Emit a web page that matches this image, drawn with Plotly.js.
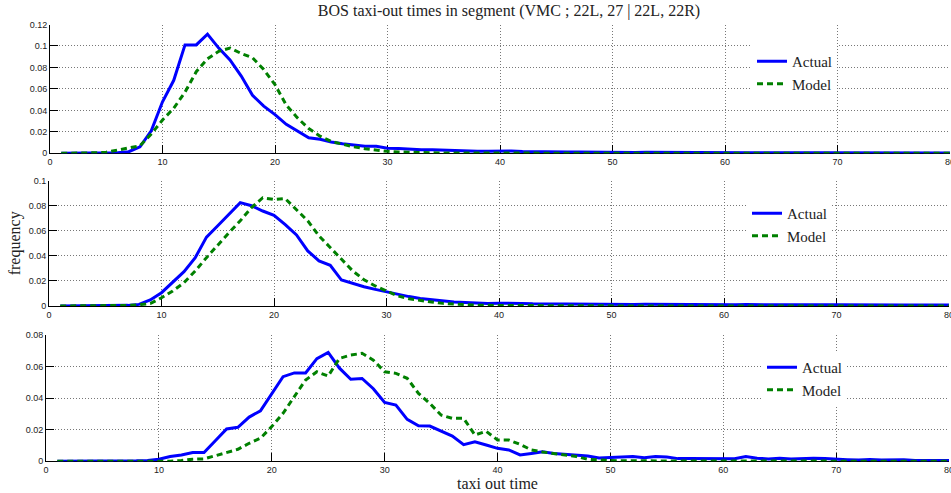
<!DOCTYPE html>
<html>
<head>
<meta charset="utf-8">
<script src="https://cdn.plot.ly/plotly-3.0.1.min.js"></script>
<style>html,body{margin:0;padding:0;background:#fff;}#chart{width:951px;height:493px;}</style>
</head>
<body>
<div id="chart"></div>
<script>
// taxi-out time (minutes), 1..80
const taxiTime = Array.from({length: 80}, (_, i) => i + 1);

const actualSeg1 = [0,0,0,0.0002,0.0003,0.0006,0.0015,0.006,0.021,0.048,
  0.068,0.101,0.101,0.111,0.098,0.087,0.072,0.054,0.044,0.036,
  0.027,0.021,0.0145,0.013,0.0105,0.009,0.0077,0.0065,0.0065,0.0047,
  0.0044,0.0037,0.0034,0.0033,0.0028,0.0026,0.0022,0.0019,0.0018,0.0022,
  0.0021,0.0016,0.0013,0.0012,0.0012,0.0011,0.0012,0.001,0.001,0.0009,
  0.0009,0.0008,0.0009,0.0008,0.0008,0.0007,0.0008,0.0007,0.0007,0.0006,
  0.0007,0.0006,0.0006,0.0007,0.0006,0.0005,0.0006,0.0005,0.0005,0.0005,
  0.0004,0.0005,0.0004,0.0004,0.0004,0.0003,0.0004,0.0003,0.0003,0.0003];
const modelSeg1 = [0,0,0.0002,0.0005,0.001,0.003,0.005,0.007,0.018,0.031,
  0.042,0.057,0.076,0.088,0.095,0.098,0.093,0.089,0.078,0.064,
  0.045,0.033,0.023,0.016,0.011,0.0085,0.006,0.0043,0.003,0.0018,
  0.0012,0.0008,0.0005,0.0004,0.0003,0.0002,0.0002,0.0002,0.0001,0.0001,
  0.0001,0.0001,0.0001,0.0001,0,0,0,0,0,0,
  0,0,0,0,0,0,0,0,0,0,
  0,0,0,0,0,0,0,0,0,0,
  0,0,0,0,0,0,0,0,0,0];

const actualSeg2 = [0,0,0,0,0.0002,0.0003,0.0005,0.0013,0.0048,0.0106,
  0.019,0.0274,0.0386,0.055,0.064,0.073,0.0825,0.08,0.0758,0.0724,
  0.065,0.0567,0.044,0.036,0.0325,0.0207,0.0178,0.0154,0.0133,0.0114,
  0.009,0.0075,0.006,0.005,0.004,0.0032,0.0027,0.0021,0.002,0.0022,
  0.0023,0.002,0.0017,0.0016,0.0015,0.0015,0.0014,0.0015,0.0014,0.0013,
  0.0013,0.0012,0.0013,0.0012,0.0012,0.0011,0.0012,0.0011,0.0011,0.0011,
  0.001,0.0011,0.001,0.001,0.001,0.0009,0.001,0.0009,0.0009,0.0009,
  0.0008,0.0009,0.0008,0.0008,0.0008,0.0007,0.0008,0.0007,0.0007,0.0007];
const modelSeg2 = [0,0,0,0,0,0.0002,0.0005,0.001,0.002,0.0066,
  0.012,0.0186,0.028,0.0386,0.049,0.0585,0.068,0.0785,0.0864,0.085,
  0.0857,0.077,0.068,0.056,0.0465,0.037,0.028,0.021,0.016,0.012,
  0.008,0.0058,0.0042,0.0032,0.0021,0.0015,0.001,0.0007,0.0005,0.0004,
  0.0003,0.0003,0.0002,0.0002,0.0002,0.0001,0.0001,0.0001,0.0001,0.0001,
  0,0,0,0,0,0,0,0,0,0,
  0,0,0,0,0,0,0,0,0,0,
  0,0,0,0,0,0,0,0,0,0];

const actualSeg3 = [0,0,0,0,0,0,0.0002,0.0003,0.0005,0.0013,
  0.003,0.004,0.0055,0.0055,0.013,0.0205,0.0215,0.028,0.032,0.0426,
  0.0536,0.056,0.056,0.065,0.069,0.059,0.052,0.0525,0.046,0.0373,
  0.0356,0.0266,0.0225,0.0223,0.0194,0.016,0.0105,0.0124,0.0103,0.0082,
  0.0072,0.004,0.005,0.006,0.005,0.0044,0.0038,0.0034,0.0021,0.0023,
  0.0025,0.003,0.0022,0.003,0.0027,0.0017,0.0018,0.0017,0.0017,0.0015,
  0.0016,0.003,0.002,0.0015,0.002,0.0015,0.0017,0.002,0.0017,0.0012,
  0.001,0.0008,0.0012,0.0008,0.0008,0.001,0.0005,0.0005,0.0005,0.0005];
const modelSeg3 = [0,0,0,0,0,0,0,0,0,0,
  0,0.0005,0.0013,0.0015,0.0034,0.0055,0.0076,0.0114,0.0146,0.022,
  0.0304,0.041,0.0515,0.0567,0.054,0.0652,0.0673,0.0684,0.0641,0.0567,
  0.0557,0.0526,0.043,0.0367,0.0293,0.0272,0.0272,0.0167,0.019,0.0135,
  0.0135,0.0107,0.0072,0.0059,0.005,0.004,0.003,0.0013,0.0008,0.0005,
  0.0003,0.0003,0.0002,0.0002,0.0001,0.0001,0.0001,0.0001,0,0,
  0,0,0,0,0,0,0,0,0,0,
  0,0,0,0,0,0,0,0,0,0];

const seriesNames = ['Actual', 'Model'];
const titleText = 'BOS taxi-out times in segment (VMC ; 22L, 27 | 22L, 22R)';
const xLabel = 'taxi out time';
const yLabel = 'frequency';
const yMax = [0.12, 0.1, 0.08];

const W = 951, H = 493;
const serif = 'Liberation Serif, Times New Roman, serif';
const sans = 'Liberation Sans, Arial, sans-serif';

const panels = [
  {a: actualSeg1, m: modelSeg1, x: [50, 950], y: [24.5, 153.3], leg: [752, 45]},
  {a: actualSeg2, m: modelSeg2, x: [49, 949], y: [180.7, 306], leg: [747, 197]},
  {a: actualSeg3, m: modelSeg3, x: [46, 949], y: [335, 461.3], leg: [762, 351]}
];

const traces = [];
const layout = {
  width: W, height: H,
  margin: {l: 0, r: 0, t: 0, b: 0},
  paper_bgcolor: '#fff', plot_bgcolor: '#fff',
  showlegend: true,
  title: {text: titleText, font: {family: serif, size: 16, color: '#222'},
          x: 509 / W, xanchor: 'center', y: 1 - 10 / H, yanchor: 'middle', xref: 'paper', yref: 'container'}
};

panels.forEach((p, i) => {
  const n = i === 0 ? '' : String(i + 1);
  const legName = 'legend' + n;
  traces.push({
    x: taxiTime, y: p.a, name: seriesNames[0], type: 'scatter', mode: 'lines',
    xaxis: 'x' + n, yaxis: 'y' + n, legend: legName, cliponaxis: false,
    line: {color: '#0000ff', width: 3}
  });
  traces.push({
    x: taxiTime, y: p.m, name: seriesNames[1], type: 'scatter', mode: 'lines',
    xaxis: 'x' + n, yaxis: 'y' + n, legend: legName, cliponaxis: false,
    line: {color: '#008000', width: 3, dash: '6px,4px'}
  });
  const common = {
    showgrid: true, gridcolor: '#777', gridwidth: 1, griddash: '1px,2px',
    zeroline: false, showline: true, linecolor: '#000', linewidth: 1,
    ticks: 'inside', ticklen: 8, tickcolor: '#000', tickwidth: 1,
    tickfont: {family: sans, size: 9, color: '#222'},
    layer: 'below traces', fixedrange: true
  };
  layout['xaxis' + n] = Object.assign({}, common, {
    domain: [p.x[0] / W, p.x[1] / W], range: [0, 80], dtick: 10, tick0: 0,
    anchor: 'y' + n, ticklabeloverflow: 'allow'
  });
  layout['yaxis' + n] = Object.assign({}, common, {
    domain: [1 - p.y[1] / H, 1 - p.y[0] / H], range: [0, yMax[i]], dtick: 0.02, tick0: 0,
    anchor: 'x' + n
  });
  layout[legName] = {
    x: p.leg[0] / W, y: 1 - p.leg[1] / H, xanchor: 'left', yanchor: 'top',
    xref: 'paper', yref: 'paper',
    bgcolor: '#fff', borderwidth: 0, itemwidth: 30,
    font: {family: serif, size: 15, color: '#222'}, tracegroupgap: 0
  };
});

layout.yaxis2.title = {text: yLabel, font: {family: serif, size: 16, color: '#222'}, standoff: 4};
layout.xaxis3.title = {text: xLabel, font: {family: serif, size: 16, color: '#222'}, standoff: 2};

Plotly.newPlot('chart', traces, layout, {displayModeBar: false, staticPlot: true});
</script>
</body>
</html>
